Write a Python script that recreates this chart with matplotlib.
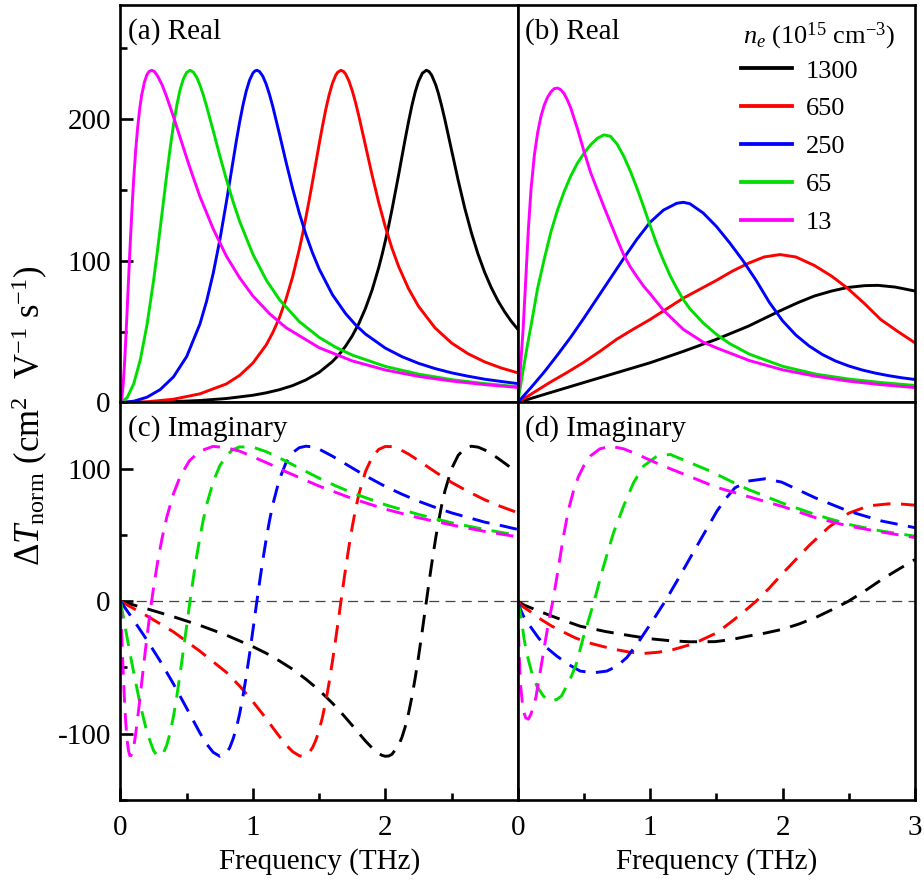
import matplotlib
matplotlib.use("Agg")
import matplotlib.pyplot as plt
from matplotlib.lines import Line2D
from matplotlib.ticker import MultipleLocator

plt.rcParams['font.family'] = ['Liberation Serif', 'DejaVu Serif']
plt.rcParams['mathtext.fontset'] = 'custom'
plt.rcParams['mathtext.rm'] = 'Liberation Serif'
plt.rcParams['mathtext.it'] = 'Liberation Serif:italic'
plt.rcParams['mathtext.bf'] = 'Liberation Serif:bold'

# ---------------- data ----------------
densities = ['1300', '650', '250', '65', '13']
colors = ['#000000', '#ff0000', '#0000ff', '#00dd00', '#ff00ff']

# panels (a) / (c): real and imaginary parts share a frequency grid per density
freq_a1300 = [0, 0.2, 0.4, 0.6, 0.8, 1.0, 1.1, 1.2, 1.3, 1.4, 1.5, 1.6, 1.65, 1.7, 1.75, 1.8, 1.85, 1.9, 1.95,
              1.975, 2.0, 2.025, 2.05, 2.1, 2.125, 2.15, 2.175, 2.2, 2.225, 2.25, 2.28, 2.31, 2.33, 2.35, 2.38,
              2.4, 2.425, 2.45, 2.5, 2.55, 2.6, 2.65, 2.7, 2.75, 2.8, 2.85, 2.9, 2.95, 3.0]
re_a1300 = [0, 0.1, 0.6, 1.4, 2.8, 5.1, 6.8, 9.0, 11.9, 15.9, 21.2, 28.8, 33.7, 39.7, 46.9, 55.6, 66.3, 79.2, 95,
            104, 113.8, 124.4, 135.8, 160.2, 173, 185.6, 197.7, 208.9, 218.5, 226.1, 232, 234, 233.1, 230.5,
            223.9, 217.9, 209, 199.1, 177.8, 156.5, 136.8, 119.5, 104.5, 91.7, 80.9, 71.7, 64, 57.3, 51.6]
im_a1300 = [0, -5.7, -11.7, -18.2, -25.6, -34.3, -39.2, -45, -51.3, -58.8, -67.1, -76.9, -82.1, -87.9, -93.7,
            -99.6, -105.5, -110.7, -114.9, -116.3, -117, -116.8, -115.5, -108.7, -102.8, -94.8, -84.7, -72.5,
            -58.2, -42.3, -21.5, 0, 14.3, 28.1, 47.5, 59.2, 72.2, 83.3, 100, 110.1, 115.3, 117, 116.3, 114.2,
            111.3, 107.9, 104.3, 100.6, 97]

freq_a650 = [0, 0.2, 0.4, 0.6, 0.8, 0.9, 1.0, 1.1, 1.15, 1.2, 1.25, 1.3, 1.35, 1.375, 1.4, 1.425, 1.45, 1.475,
             1.5, 1.525, 1.55, 1.575, 1.6, 1.625, 1.64, 1.665, 1.685, 1.7, 1.725, 1.75, 1.775, 1.8, 1.85, 1.9,
             1.95, 2.0, 2.05, 2.1, 2.175, 2.25, 2.375, 2.5, 2.625, 2.75, 2.875, 3.0]
re_a650 = [0, 0.5, 2.3, 6.1, 13.1, 19.1, 27.8, 40.5, 49.2, 59.7, 72.8, 88.6, 107.8, 118.6, 130.3, 142.6, 155.5,
           168.7, 181.9, 194.5, 206.3, 216.5, 224.7, 230.4, 232.6, 234, 233.1, 231.4, 226.5, 219.7, 211.3, 201.7,
           181, 160.2, 140.9, 123.7, 108.7, 95.9, 80.2, 67.8, 52.6, 41.9, 34.3, 28.6, 24.3, 20.9]
im_a650 = [0, -11.1, -23.1, -37.7, -53.7, -64, -75.8, -88.5, -95.4, -102, -108.4, -113.5, -116.6, -117, -116.3,
           -114.1, -110.5, -104.9, -97.4, -87.6, -75.7, -61.6, -45.8, -28.7, -18, 0, 14.3, 24.7, 41.1, 56.1,
           69.3, 80.7, 97.9, 108.7, 114.6, 116.8, 116.7, 115.1, 111.1, 106.2, 97.7, 89.7, 82.8, 76.6, 71.4,
           66.8]

freq_a250 = [0, 0.1, 0.2, 0.3, 0.4, 0.5, 0.6, 0.65, 0.7, 0.75, 0.8, 0.825, 0.85, 0.875, 0.9, 0.925, 0.95, 0.975,
             1.0, 1.015, 1.03, 1.05, 1.075, 1.1, 1.125, 1.15, 1.2, 1.25, 1.3, 1.35, 1.4, 1.45, 1.5, 1.6, 1.7,
             1.775, 1.85, 2.0, 2.125, 2.25, 2.375, 2.5, 2.625, 2.75, 2.875, 3.0]
re_a250 = [0, 0.9, 3.7, 9.1, 18, 32.4, 55.3, 71.3, 90.9, 114.4, 141.4, 155.7, 170, 184.3, 197.6, 209.5, 219.5,
           227.1, 232, 233.5, 234, 233.1, 229.8, 224.3, 217, 208.5, 189.3, 169.4, 150.6, 133.5, 118.4, 105.4,
           94.1, 76, 62.6, 54.7, 48.2, 38.3, 32.3, 27.6, 23.9, 20.9, 18.5, 16.4, 14.8, 13.3]
im_a250 = [0, -14.4, -29.3, -45.2, -62.4, -80.8, -99.4, -107.7, -114, -117, -114.5, -110.5, -104, -95.7, -84.8,
           -71.6, -56.3, -39.6, -21.8, -10.9, 0, 14.2, 31.1, 46.7, 60.7, 72.9, 92, 104.6, 112.1, 115.9, 117,
           116.5, 114.8, 109.5, 103.6, 99.1, 94.7, 86.6, 80.8, 75.5, 70.9, 66.7, 63.2, 59.7, 57.1, 54.2]

freq_a65 = [0, 0.05, 0.1, 0.15, 0.2, 0.25, 0.275, 0.3, 0.325, 0.35, 0.375, 0.4, 0.425, 0.45, 0.475, 0.5, 0.525,
            0.55, 0.575, 0.6, 0.625, 0.65, 0.7, 0.75, 0.8, 0.85, 0.9, 1.0, 1.1, 1.2, 1.35, 1.5, 1.625, 1.75,
            2.0, 2.25, 2.5, 2.75, 3.0]
re_a65 = [0, 3.3, 13.2, 30.2, 54.6, 86, 103.9, 122.8, 142, 161, 179.1, 195.4, 209.2, 220.3, 228, 232.5, 234,
          232.7, 229.1, 223.6, 216.7, 208.7, 191.5, 173.8, 157, 141.5, 127.5, 104.4, 86.4, 72.5, 57, 45.9, 38.9,
          33.4, 25.4, 20, 16.1, 13.3, 11.1]
im_a65 = [0, -27.5, -54, -78.4, -99, -112.8, -116.3, -116.9, -114.3, -108.4, -99.2, -86.9, -71.9, -55, -36.9,
          -18.3, 0, 17.5, 33.7, 48.4, 61.3, 72.6, 90.2, 102.3, 110, 114.5, 116.5, 116.3, 112.9, 108.2, 100.5,
          92.9, 87.1, 81.8, 72.8, 65.5, 59.2, 54.2, 49.7]

freq_a13 = [0, 0.01, 0.02, 0.03, 0.04, 0.05, 0.06, 0.07, 0.08, 0.09, 0.10, 0.115, 0.13, 0.145, 0.16, 0.18, 0.20,
            0.215, 0.235, 0.255, 0.28, 0.315, 0.35, 0.4, 0.45, 0.52, 0.6, 0.7, 0.8, 0.9, 1.0, 1.125, 1.25, 1.5,
            1.75, 2.0, 2.25, 2.5, 2.75, 3.0]
re_a13 = [0, 3.2, 12.5, 26.7, 44.6, 64.5, 85, 105.3, 124, 142, 158, 177.9, 194, 206.8, 216.5, 225.4, 231, 233,
          234, 233.2, 230, 223.6, 215, 201.3, 186.7, 166.5, 145, 122.3, 103, 87.8, 75, 62.6, 52.7, 38.6, 29.3,
          22.9, 18.4, 15.1, 12.6, 10.6]
im_a13 = [0, -27.1, -52.7, -74.4, -92, -104.6, -112.5, -116.4, -116.4, -114.3, -110, -99.9, -88, -75, -61.6,
          -43.9, -27, -15, 0, 13.8, 29.3, 48.1, 63.6, 81.1, 94, 106, 113.3, 116.9, 115.8, 113.3, 109, 103.6,
          97.7, 86.9, 77.5, 69.5, 63, 57.6, 52.7, 48.6]

# panel (b): real part
freq_b1300 = [0, 0.24, 0.493, 0.745, 1.0, 1.25, 1.5, 1.74, 1.99, 2.12, 2.24, 2.37, 2.49, 2.62, 2.72, 2.85, 3.0]
re_b1300 = [0, 6.8, 13.9, 20.9, 28, 36, 44.5, 53.7, 65, 70.5, 75, 78.5, 81, 82.3, 82.5, 81.3, 78.5]

freq_b650 = [0, 0.12, 0.24, 0.37, 0.493, 0.62, 0.745, 0.87, 1.0, 1.25, 1.5, 1.62, 1.74, 1.86, 1.98, 2.1, 2.24,
             2.37, 2.49, 2.62, 2.74, 2.87, 3.0]
re_b650 = [0, 7, 14, 21, 28, 36, 44.4, 51.5, 58.5, 73.5, 86, 92.5, 98, 102.5, 104.2, 102.5, 96.5, 89, 80.5,
           69.5, 58.5, 50, 42]

freq_b250 = [0, 0.1, 0.2, 0.3, 0.4, 0.5, 0.6, 0.7, 0.8, 0.9, 1.0, 1.1, 1.2, 1.25, 1.3, 1.4, 1.5, 1.6, 1.7, 1.8,
             1.9, 2.0, 2.1, 2.2, 2.3, 2.4, 2.5, 2.6, 2.7, 2.8, 2.9, 3.0]
re_b250 = [0, 10.5, 21.5, 33.5, 46, 59.5, 73.5, 87.5, 101.5, 115, 127, 135.5, 140.3, 141, 140, 133.5, 124,
           112.5, 100, 86, 70.5, 57.5, 47.5, 39.8, 33.8, 29.2, 25.7, 22.9, 20.7, 18.9, 17.4, 16.2]

freq_b65 = [0, 0.025, 0.05, 0.075, 0.1, 0.15, 0.2, 0.25, 0.3, 0.35, 0.4, 0.45, 0.5, 0.55, 0.6, 0.65, 0.7, 0.75,
            0.8, 0.85, 0.9, 0.95, 1.0, 1.05, 1.1, 1.15, 1.2, 1.25, 1.3, 1.4, 1.5, 1.6, 1.75, 2.0, 2.25, 2.5,
            2.75, 3.0]
re_b65 = [0, 14, 28, 41.5, 54, 80.5, 101, 120, 135.5, 148.5, 159.5, 168.5, 175.5, 181.5, 186, 188.5, 187.5,
          182, 173.5, 163, 151, 138, 124.5, 111.5, 100, 89.5, 80.5, 72.5, 66, 56, 48, 41.5, 34, 25.5, 20, 16.5,
          14, 12]

freq_b13 = [0, 0.02, 0.04, 0.06, 0.08, 0.1, 0.125, 0.15, 0.175, 0.2, 0.225, 0.25, 0.275, 0.3, 0.325, 0.35,
            0.375, 0.4, 0.45, 0.5, 0.55, 0.6, 0.65, 0.7, 0.75, 0.8, 0.85, 0.9, 0.95, 1.0, 1.1, 1.25, 1.4, 1.5,
            1.75, 2.0, 2.25, 2.5, 2.75, 3.0]
re_b13 = [0, 24, 51, 86, 122, 150, 174, 190, 201.5, 209.5, 215, 218.7, 221, 221.5, 220.3, 217.5, 213, 207.5,
          193, 177, 162, 150, 138, 126.5, 115, 104, 95.5, 88.5, 82, 76.5, 65, 51.5, 42.5, 38.5, 29.5, 23, 18.5,
          15, 12.5, 10.5]

# panel (d): imaginary part
freq_d1300 = [0, 0.05, 0.1, 0.2, 0.3, 0.47, 0.67, 0.85, 1.0, 1.15, 1.3, 1.49, 1.62, 1.74, 1.87, 1.993, 2.12,
              2.245, 2.37, 2.497, 2.62, 2.75, 2.87, 3.0]
im_d1300 = [0, -3, -5, -9, -12.8, -18.8, -23, -26, -28.3, -29.8, -30.6, -30.5, -28.8, -26.3, -24, -21.3, -17.3,
            -12.5, -6.5, 0, 7.7, 16.5, 23.8, 31.5]

freq_d650 = [0, 0.03, 0.098, 0.156, 0.257, 0.35, 0.433, 0.534, 0.636, 0.736, 0.85, 0.95, 1.06, 1.177, 1.328,
             1.5, 1.6, 1.7, 1.8, 1.9, 2.0, 2.1, 2.2, 2.35, 2.5, 2.65, 2.8, 2.9, 3.0]
im_d650 = [0, -3.5, -8, -12.5, -18.8, -23.5, -27.6, -31.3, -34, -36.4, -38.5, -39.4, -38.5, -36.4, -32, -24,
           -16.5, -8.5, 0, 10, 21, 31.5, 42, 56, 66.5, 72, 73.5, 73.3, 72.5]

freq_d250 = [0, 0.02, 0.043, 0.093, 0.156, 0.219, 0.295, 0.383, 0.471, 0.572, 0.673, 0.748, 0.824, 0.925,
             1.025, 1.113, 1.202, 1.302, 1.403, 1.504, 1.565, 1.64, 1.74, 1.867, 1.993, 2.245, 2.497, 2.75, 3.0]
im_d250 = [0, -6, -11.2, -18.8, -27.6, -35.1, -41.4, -47.7, -52.7, -54, -52.7, -49, -42.5, -28.8, -13.7, 0,
           15.2, 32.8, 50.4, 68, 76.8, 85.6, 90.7, 92.4, 89.9, 78.1, 68, 60.5, 55.5]

freq_d65 = [0, 0.028, 0.048, 0.073, 0.106, 0.144, 0.194, 0.244, 0.295, 0.33, 0.395, 0.44, 0.496, 0.577, 0.648,
            0.723, 0.799, 0.874, 0.95, 1.05, 1.151, 1.302, 1.454, 1.6, 1.74, 1.993, 2.245, 2.497, 2.75, 3.0]
im_d65 = [0, -13.7, -28.8, -41.4, -54, -64, -71.6, -75.4, -74.1, -71.5, -59, -48, -27, 0, 26.5, 51.7, 71.8,
          89.4, 102, 109.5, 110.8, 104.5, 98.2, 91, 84.4, 74.3, 65.5, 58, 52.9, 49.1]

freq_d13 = [0, 0.005, 0.01, 0.02, 0.04, 0.06, 0.08, 0.10, 0.12, 0.136, 0.16, 0.181, 0.21, 0.24, 0.265, 0.3,
            0.345, 0.383, 0.42, 0.458, 0.5, 0.547, 0.62, 0.7, 0.8, 0.9, 1.076, 1.252, 1.5, 1.74, 2.0, 2.25,
            2.5, 2.75, 3.0]
im_d13 = [0, -20, -38, -62, -82, -88, -89, -85, -79, -73, -59, -46.4, -29, -12, 0, 21, 49, 69, 83, 94, 102.5,
          109.5, 115, 117, 115, 111, 103, 96, 86, 79, 71.5, 63, 56.7, 52.2, 48]

series_a = [(freq_a1300, re_a1300, im_a1300), (freq_a650, re_a650, im_a650), (freq_a250, re_a250, im_a250),
            (freq_a65, re_a65, im_a65), (freq_a13, re_a13, im_a13)]
series_b = [(freq_b1300, re_b1300), (freq_b650, re_b650), (freq_b250, re_b250),
            (freq_b65, re_b65), (freq_b13, re_b13)]
series_d = [(freq_d1300, im_d1300), (freq_d650, im_d650), (freq_d250, im_d250),
            (freq_d65, im_d65), (freq_d13, im_d13)]

# ---------------- figure ----------------
LW = 2.1
DASH = (0, (6, 3.6))
FS = 21

fig = plt.figure(figsize=(9.24, 8.88), dpi=100)
gs = fig.add_gridspec(2, 2, left=0.1304, right=0.9903, top=0.9944, bottom=0.0991,
                      hspace=0, wspace=0)
ax_a = fig.add_subplot(gs[0, 0])
ax_b = fig.add_subplot(gs[0, 1])
ax_c = fig.add_subplot(gs[1, 0])
ax_d = fig.add_subplot(gs[1, 1])

for (f, re, im), c in zip(series_a, colors):
    ax_a.plot(f, re, color=c, lw=LW, solid_joinstyle='round')
    ax_c.plot(f, im, color=c, lw=LW, ls=DASH)
for (f, re), c in zip(series_b, colors):
    ax_b.plot(f, re, color=c, lw=LW, solid_joinstyle='round')
for (f, im), c in zip(series_d, colors):
    ax_d.plot(f, im, color=c, lw=LW, ls=DASH)

for ax in (ax_c, ax_d):
    ax.axhline(0, color='#444444', lw=0.9, ls=(0, (8, 5)), zorder=0)

for ax in (ax_a, ax_b, ax_c, ax_d):
    ax.set_xlim(0, 3)
    for s in ax.spines.values():
        s.set_linewidth(1.9)
    ax.tick_params(which='both', direction='in', width=1.9, labelsize=FS,
                   top=False, right=False)
    ax.tick_params(which='major', length=9)
    ax.tick_params(which='minor', length=5)
    ax.tick_params(axis='y', pad=7)
    ax.tick_params(axis='x', pad=11)

for ax in (ax_a, ax_b):
    ax.set_ylim(0, 280)
    ax.tick_params(axis='x', which='both', bottom=False, labelbottom=False)
for ax in (ax_c, ax_d):
    ax.set_ylim(-150, 150)
    ax.xaxis.set_major_locator(MultipleLocator(1))
    ax.xaxis.set_minor_locator(MultipleLocator(0.5))
    ax.set_xlabel('Frequency (THz)', fontsize=FS, labelpad=5)

ax_a.yaxis.set_major_locator(MultipleLocator(100))
ax_a.yaxis.set_minor_locator(MultipleLocator(50))
ax_c.yaxis.set_major_locator(MultipleLocator(100))
ax_c.yaxis.set_minor_locator(MultipleLocator(50))
ax_c.set_xticks([0, 1, 2, 3])
ax_c.set_xticklabels(['0', '1', '2', ''])
ax_c.set_yticks([-100, 0, 100])
ax_c.set_yticklabels(['-100', '0', '100'])
for ax in (ax_b, ax_d):
    ax.tick_params(axis='y', which='both', left=False, labelleft=False)

panel_labels = [(ax_a, '(a) Real'), (ax_b, '(b) Real'), (ax_c, '(c) Imaginary'), (ax_d, '(d) Imaginary')]
for ax, txt in panel_labels:
    ax.text(0.018, 0.968, txt, transform=ax.transAxes, ha='left', va='top', fontsize=FS)

# legend: title drawn as its own text, entries below
ax_b.text(0.567, 0.922, r'$n_e$ (10$^{15}$ cm$^{-3}$)', transform=ax_b.transAxes,
          ha='left', va='center', fontsize=19)
handles = [Line2D([], [], color=c, lw=LW * 1.3) for c in colors]
ax_b.legend(handles, densities, loc='upper left', bbox_to_anchor=(0.562, 0.864),
            frameon=False, fontsize=19, handlelength=1.95, handletextpad=0.5,
            labelspacing=0.55, borderpad=0, borderaxespad=0)

fig.text(0.032, 0.532, r'$\Delta T_{\rm norm}$ (cm$^2$  V$^{-1}$ s$^{-1}$)', rotation=90,
         ha='center', va='center', fontsize=25)

fig.savefig('out.png', dpi=100)
